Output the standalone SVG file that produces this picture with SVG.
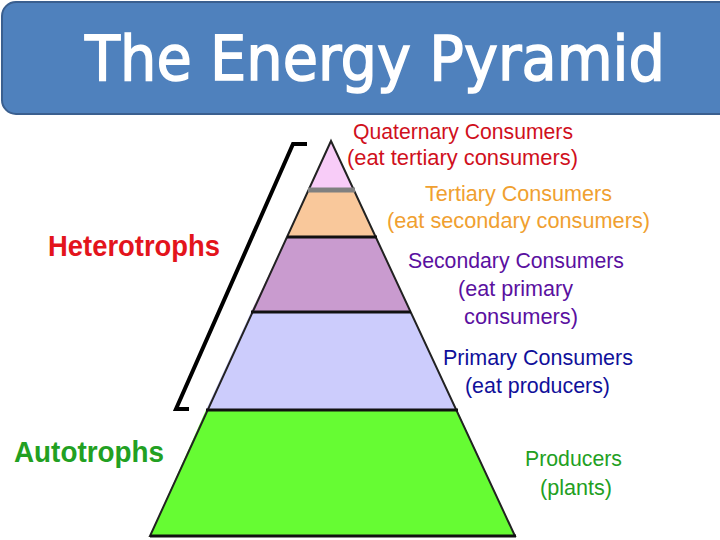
<svg xmlns="http://www.w3.org/2000/svg" width="720" height="540" viewBox="0 0 720 540">
<style>
.lbl{font-family:"Liberation Sans","DejaVu Sans",sans-serif;font-size:22px;text-anchor:start}
.side{font-family:"Liberation Sans","DejaVu Sans",sans-serif;font-weight:bold;font-size:30px}
.lvl{stroke:#111;stroke-width:3}
</style>
<rect x="0" y="0" width="720" height="540" fill="#ffffff"/>
<g id="title">
<rect x="2" y="2" width="740" height="112" rx="14" fill="#4f81bd" stroke="#3a5f8f" stroke-width="2"/>
<text x="85" y="80" font-family="'DejaVu Sans',sans-serif" font-size="62" fill="#ffffff" stroke="#ffffff" stroke-width="1.5" textLength="580" lengthAdjust="spacingAndGlyphs">The Energy Pyramid</text>
</g>
<g id="pyramid">
<g id="producers"><polygon points="206,410 457,410 515,536 150,536" fill="#66fc33"/></g>
<g id="primary"><polygon points="251,312 411,312 457,410 206,410" fill="#ccccfc"/></g>
<g id="secondary"><polygon points="287,237 376,237 411,312 251,312" fill="#c99bcf"/></g>
<g id="tertiary"><polygon points="309,190 354,190 376,237 287,237" fill="#f9c89b"/></g>
<g id="quaternary"><polygon points="331,141 354,190 309,190" fill="#f8ccf8"/></g>
<polygon points="331,141 515,536 150,536" fill="none" stroke="#222" stroke-width="2"/>
<line x1="308" y1="190" x2="355" y2="190" stroke="#808080" stroke-width="5"/>
<line class="lvl" x1="287" y1="237" x2="377" y2="237"/>
<line class="lvl" x1="251" y1="312" x2="411" y2="312"/>
<line class="lvl" x1="206" y1="410" x2="458" y2="410"/>
<line class="lvl" x1="150" y1="536" x2="516" y2="536"/>
</g>
<g id="connectors">
<polyline points="307,144 293,144 176,409 189,409" fill="none" stroke="#000" stroke-width="4"/>
</g>
<g id="heterotrophs"><text class="side" x="48" y="256" fill="#e3141c" textLength="172" lengthAdjust="spacingAndGlyphs">Heterotrophs</text></g>
<g id="autotrophs"><text class="side" x="14" y="462" fill="#22a022" textLength="150" lengthAdjust="spacingAndGlyphs">Autotrophs</text></g>
<g id="label-quaternary" fill="#d0101c">
<text class="lbl" x="353" y="139" textLength="220" lengthAdjust="spacingAndGlyphs">Quaternary Consumers</text>
<text class="lbl" x="347" y="165" textLength="231" lengthAdjust="spacingAndGlyphs">(eat tertiary consumers)</text>
</g>
<g id="label-tertiary" fill="#f0a030">
<text class="lbl" x="425" y="201" textLength="187" lengthAdjust="spacingAndGlyphs">Tertiary Consumers</text>
<text class="lbl" x="387" y="228" textLength="263" lengthAdjust="spacingAndGlyphs">(eat secondary consumers)</text>
</g>
<g id="label-secondary" fill="#5a10a0">
<text class="lbl" x="408" y="268" textLength="216" lengthAdjust="spacingAndGlyphs">Secondary Consumers</text>
<text class="lbl" x="458" y="296" textLength="115" lengthAdjust="spacingAndGlyphs">(eat primary</text>
<text class="lbl" x="464" y="324" textLength="114" lengthAdjust="spacingAndGlyphs">consumers)</text>
</g>
<g id="label-primary" fill="#10109a">
<text class="lbl" x="443" y="365" textLength="190" lengthAdjust="spacingAndGlyphs">Primary Consumers</text>
<text class="lbl" x="465" y="393" textLength="145" lengthAdjust="spacingAndGlyphs">(eat producers)</text>
</g>
<g id="label-producers" fill="#22a022">
<text class="lbl" x="525" y="466" textLength="97" lengthAdjust="spacingAndGlyphs">Producers</text>
<text class="lbl" x="540" y="495" textLength="72" lengthAdjust="spacingAndGlyphs">(plants)</text>
</g>
</svg>
